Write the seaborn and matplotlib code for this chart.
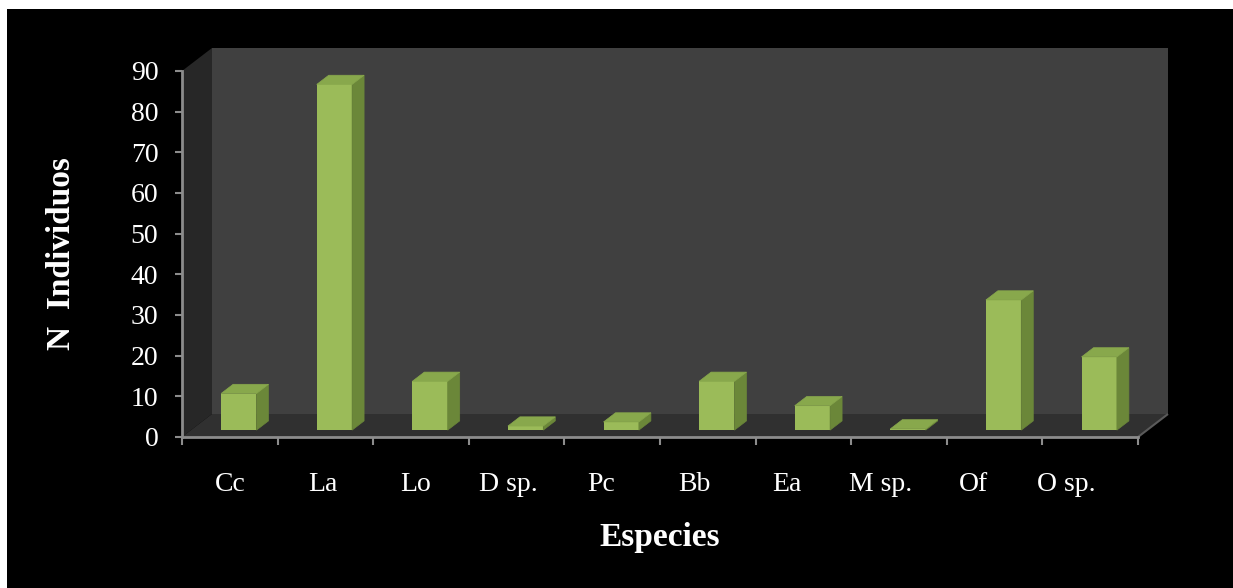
import matplotlib
matplotlib.use("Agg")
import matplotlib.pyplot as plt
import seaborn as sns
import numpy as np
from matplotlib.patches import Polygon, Rectangle
from matplotlib.transforms import IdentityTransform, ScaledTranslation

# Data
especies = ['Cc', 'La', 'Lo', 'D sp.', 'Pc', 'Bb', 'Ea', 'M sp.', 'Of', 'O sp.']
individuos = [9, 85, 12, 1, 2, 12, 6, 0.3, 32, 18]
y_ticks = list(range(0, 100, 10))

# Colours (Excel 2007 style 3D column)
FRONT = '#9BBB59'
SIDE = '#6B8739'
TOP = '#88A84C'
WALL = '#404040'
SIDE_WALL = '#272727'
FLOOR = '#303030'
AXIS = '#8C8C8C'

sns.set_style("white")
plt.rcParams['font.family'] = ['Liberation Serif', 'DejaVu Serif']

W, H, DPI = 1233, 588, 100
fig = plt.figure(figsize=(W / DPI, H / DPI), dpi=DPI, facecolor='white')
fig.add_artist(Rectangle((7 / W, 0), 1, 1 - 9 / H, transform=fig.transFigure,
                         facecolor='black', edgecolor='none', zorder=-20))

ax = fig.add_axes([182 / W, (H - 437) / H, 956 / W, 366 / H])
ax.set_facecolor('none')

sns.barplot(x=especies, y=individuos, color=FRONT, saturation=1, width=0.37,
            ax=ax, zorder=3)
ax.set_xlim(-0.5, len(especies) - 0.5)
ax.set_ylim(0, 90)

# depth of the 3D box in pixels
DX, DY = 30, 23
f0, f1 = 0.3, 0.7


def px(x, y):
    return ax.transData.transform((x, y))


# walls and floor
x0, x1 = ax.get_xlim()
bl, tl = px(x0, 0), px(x0, 90)
br = px(x1, 0)
d = np.array([DX, DY])
back = [bl + d, br + d, np.array([br[0], tl[1]]) + d, tl + d]
left = [bl, tl, tl + d, bl + d]
floor = [bl, br, br + d, bl + d]
for pts, col in [(back, WALL), (left, SIDE_WALL), (floor, FLOOR)]:
    fig.add_artist(Polygon(pts, closed=True, facecolor=col, edgecolor='none',
                           transform=IdentityTransform(), zorder=-5))
fig.add_artist(Polygon([br, br + d], closed=False, fill=False, edgecolor='#5a5a5a',
                       lw=1.5, transform=IdentityTransform(), zorder=-4))

# turn the flat bars into 3D columns
for bar in list(ax.patches):
    bx, bw, bh = bar.get_x(), bar.get_width(), bar.get_height()
    a = px(bx, 0) + d * f0
    b = px(bx + bw, 0) + d * f0
    c = px(bx + bw, bh) + d * f0
    e = px(bx, bh) + d * f0
    dd = d * (f1 - f0)
    side = [b, c, c + dd, b + dd]
    top = [e, c, c + dd, e + dd]
    ax.add_artist(Polygon(side, closed=True, facecolor=SIDE, edgecolor=SIDE, lw=0.5,
                          transform=IdentityTransform(), zorder=4, clip_on=False))
    ax.add_artist(Polygon(top, closed=True, facecolor=TOP, edgecolor=TOP, lw=0.5,
                          transform=IdentityTransform(), zorder=4, clip_on=False))
    bar.set_transform(ax.transData + ScaledTranslation(DX * f0 / DPI, DY * f0 / DPI,
                                                       fig.dpi_scale_trans))
    bar.set_edgecolor('none')
    bar.set_clip_on(False)

# axes styling
for s in ['top', 'right']:
    ax.spines[s].set_visible(False)
for s in ['left', 'bottom']:
    ax.spines[s].set_color(AXIS)
    ax.spines[s].set_linewidth(2)
    ax.spines[s].set_zorder(6)

ax.set_yticks(y_ticks)
ax.tick_params(axis='y', colors=AXIS, labelcolor='white', labelsize=20,
               length=5, width=1.5, direction='out', pad=12, left=True)
# category labels sit slightly compressed towards the left, as in the original
ax.set_xticks(np.arange(len(especies)) * 0.972, especies)
ax.set_xticks(np.arange(len(especies) + 1) - 0.5, minor=True)
ax.tick_params(axis='x', which='minor', colors=AXIS, length=6, width=1.5,
               direction='out', bottom=True)
ax.tick_params(axis='x', which='major', length=0, labelcolor='white',
               labelsize=20, pad=25)

ax.set_xlabel('Especies', fontsize=24, fontweight='bold', color='white')
ax.set_ylabel('N  Individuos', fontsize=24, fontweight='bold', color='white')
ax.xaxis.set_label_coords(0.5, -0.232)
ax.yaxis.set_label_coords(-0.110, 0.5)

fig.savefig('out.png', dpi=DPI, facecolor='white')
